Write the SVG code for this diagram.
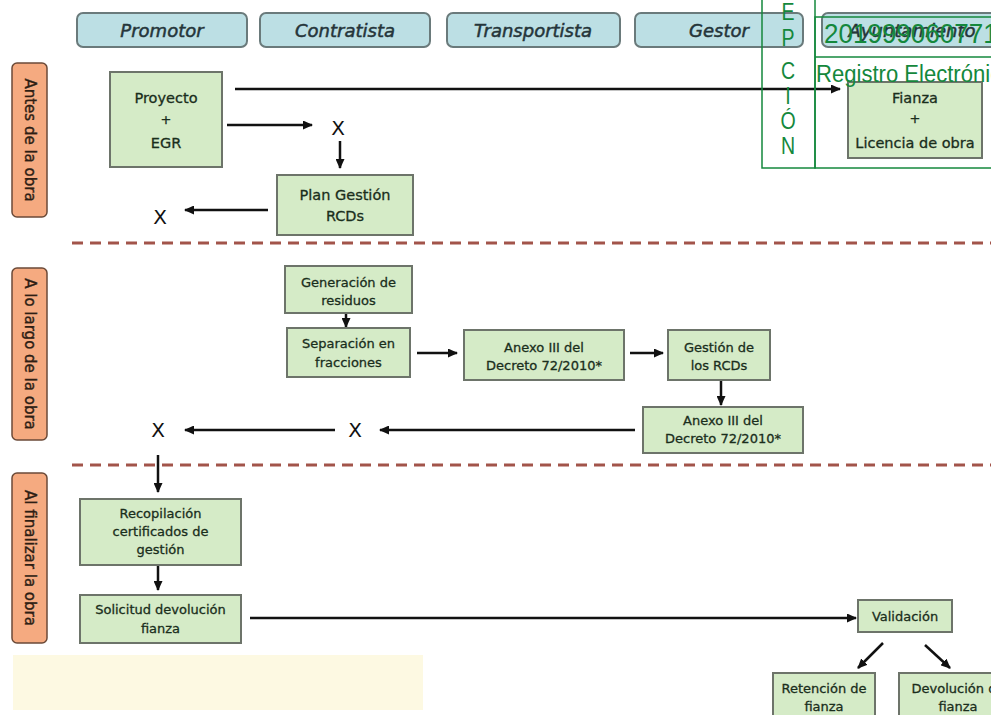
<svg xmlns="http://www.w3.org/2000/svg" width="991" height="715" viewBox="0 0 991 715">
<defs>
<marker id="ah" markerUnits="userSpaceOnUse" markerWidth="10" markerHeight="9" refX="9" refY="4.5" orient="auto">
<path d="M0,0 L10,4.5 L0,9 z" fill="#111"/>
</marker>
<style>
.pill{fill:#bcdfe4;stroke:#6a7a7b;stroke-width:2}
.pt{font-family:"DejaVu Sans",sans-serif;font-style:italic;font-size:18px;fill:#25353a;stroke:#25353a;stroke-width:0.5;text-anchor:middle}
.lab{fill:#f5aa80;stroke:#6b4a38;stroke-width:1.5}
.lt{font-family:"DejaVu Sans",sans-serif;font-size:15px;fill:#2e1e14;stroke:#2e1e14;stroke-width:0.4;text-anchor:middle}
.box{fill:#d5ebc7;stroke:#6d746a;stroke-width:2}
.bt{font-family:"DejaVu Sans",sans-serif;font-size:13px;fill:#1a2e1c;stroke:#1a2e1c;stroke-width:0.3;text-anchor:middle}
.bl{font-family:"DejaVu Sans",sans-serif;font-size:14.5px;fill:#1a2e1c;stroke:#1a2e1c;stroke-width:0.3;text-anchor:middle}
.x{font-family:"DejaVu Sans",sans-serif;font-size:20px;fill:#111;text-anchor:middle}
.cn{stroke:#111;stroke-width:2.5;fill:none;marker-end:url(#ah)}
.dash{stroke:#a2544a;stroke-width:3;stroke-dasharray:11 7;fill:none}
.st{fill:none;stroke:#14883c;stroke-width:1.5}
.stt{font-family:"Liberation Sans",sans-serif;fill:#14883c}
</style>
</defs>
<rect width="991" height="715" fill="#ffffff"/>
<rect x="13" y="655" width="410" height="55" fill="#fdf9e2"/>

<g id="headers">
<g id="h-promotor"><rect class="pill" x="77" y="13" width="170" height="34" rx="6"/><text class="pt" x="162" y="37">Promotor</text></g>
<g id="h-contratista"><rect class="pill" x="260" y="13" width="170" height="34" rx="6"/><text class="pt" x="345" y="37">Contratista</text></g>
<g id="h-transportista"><rect class="pill" x="447" y="13" width="173" height="34" rx="6"/><text class="pt" x="533" y="37">Transportista</text></g>
<g id="h-gestor"><rect class="pill" x="635" y="13" width="168" height="34" rx="6"/><text class="pt" x="719" y="37">Gestor</text></g>
<g id="h-ayuntamiento"><rect class="pill" x="822" y="13" width="185" height="34" rx="6"/><text class="pt" x="912" y="37">Ayuntamiento</text></g>
</g>

<g id="phases">
<g id="p-antes"><rect class="lab" x="12" y="63" width="35" height="154" rx="5"/><text class="lt" transform="translate(24.5,140) rotate(90)" x="0" y="0">Antes de la obra</text></g>
<g id="p-largo"><rect class="lab" x="12" y="268" width="35" height="172" rx="5"/><text class="lt" transform="translate(24.5,354) rotate(90)" x="0" y="0">A lo largo de la obra</text></g>
<g id="p-final"><rect class="lab" x="12" y="473" width="35" height="170" rx="5"/><text class="lt" transform="translate(24.5,558) rotate(90)" x="0" y="0">Al finalizar la obra</text></g>
</g>

<g id="separators">
<line class="dash" x1="72" y1="243" x2="991" y2="243"/>
<line class="dash" x1="72" y1="465" x2="991" y2="465"/>
</g>

<g id="connectors">
<path class="cn" d="M235,89 H840"/>
<path class="cn" d="M227,125 H312"/>
<path class="cn" d="M340,141 V168"/>
<path class="cn" d="M268,210 H185"/>
<path class="cn" d="M346,313 V327"/>
<path class="cn" d="M417,353 H457"/>
<path class="cn" d="M630,353 H663"/>
<path class="cn" d="M721,380 V405"/>
<path class="cn" d="M635,430 H380"/>
<path class="cn" d="M335,430 H185"/>
<path class="cn" d="M158,455 V492"/>
<path class="cn" d="M158,566 V590"/>
<path class="cn" d="M250,618 H856"/>
<path class="cn" d="M883,643 L858,668"/>
<path class="cn" d="M925,645 L950,668"/>
</g>

<g id="n-proyecto"><rect class="box" x="110" y="72" width="112" height="95"/><text class="bl" x="166" y="103">Proyecto</text><text class="bt" x="166" y="124" font-size="10">+</text><text class="bl" x="166" y="148">EGR</text></g>
<g id="x1"><text class="x" x="338" y="135">X</text></g>
<g id="n-plan"><rect class="box" x="277" y="175" width="136" height="60"/><text class="bl" x="345" y="200">Plan Gestión</text><text class="bl" x="345" y="221">RCDs</text></g>
<g id="x2"><text class="x" x="160" y="224">X</text></g>
<g id="n-fianza"><rect class="box" x="848" y="82" width="134" height="76"/><text class="bl" x="915" y="103">Fianza</text><text class="bt" x="915" y="123" font-size="10">+</text><text class="bl" x="915" y="148">Licencia de obra</text></g>

<g id="n-generacion"><rect class="box" x="285" y="266" width="127" height="47"/><text class="bt" x="348.5" y="287">Generación de</text><text class="bt" x="348.5" y="305">residuos</text></g>
<g id="n-separacion"><rect class="box" x="287" y="328" width="123" height="49"/><text class="bt" x="348.5" y="348">Separación en</text><text class="bt" x="348.5" y="367">fracciones</text></g>
<g id="n-anexo1"><rect class="box" x="464" y="330" width="160" height="50"/><text class="bt" x="544" y="352">Anexo III del</text><text class="bt" x="544" y="370">Decreto 72/2010*</text></g>
<g id="n-gestion"><rect class="box" x="668" y="330" width="102" height="50"/><text class="bt" x="719" y="352">Gestión de</text><text class="bt" x="719" y="370">los RCDs</text></g>
<g id="n-anexo2"><rect class="box" x="643" y="407" width="160" height="46"/><text class="bt" x="723" y="425">Anexo III del</text><text class="bt" x="723" y="443">Decreto 72/2010*</text></g>
<g id="x3"><text class="x" x="355" y="437">X</text></g>
<g id="x4"><text class="x" x="158" y="437">X</text></g>

<g id="n-recopilacion"><rect class="box" x="80" y="499" width="161" height="66"/><text class="bt" x="160.5" y="518">Recopilación</text><text class="bt" x="160.5" y="536">certificados de</text><text class="bt" x="160.5" y="554">gestión</text></g>
<g id="n-solicitud"><rect class="box" x="80" y="595" width="161" height="48"/><text class="bt" x="160.5" y="614">Solicitud devolución</text><text class="bt" x="160.5" y="633">fianza</text></g>
<g id="n-validacion"><rect class="box" x="858" y="600" width="94" height="32"/><text class="bt" x="905" y="621">Validación</text></g>
<g id="n-retencion"><rect class="box" x="773" y="673" width="102" height="50"/><text class="bt" x="824" y="693">Retención de</text><text class="bt" x="824" y="711">fianza</text></g>
<g id="n-devolucion"><rect class="box" x="899" y="673" width="118" height="50"/><text class="bt" x="958" y="693">Devolución de</text><text class="bt" x="958" y="711">fianza</text></g>

<g id="stamp">
<rect class="st" x="762" y="-5" width="53" height="173"/>
<rect class="st" x="815" y="17" width="190" height="151"/>
<line class="st" x1="815" y1="57" x2="1005" y2="57"/>
<g class="stt" font-size="23" text-anchor="middle">
<text x="788" y="20" transform="translate(788,0) scale(0.85,1) translate(-788,0)">E</text>
<text x="788" y="46" transform="translate(788,0) scale(0.85,1) translate(-788,0)">P</text>
<text x="788" y="79" transform="translate(788,0) scale(0.85,1) translate(-788,0)">C</text>
<text x="788" y="104" transform="translate(788,0) scale(0.85,1) translate(-788,0)">I</text>
<text x="788" y="129" transform="translate(788,0) scale(0.85,1) translate(-788,0)">Ó</text>
<text x="788" y="154" transform="translate(788,0) scale(0.85,1) translate(-788,0)">N</text>
</g>
<text class="stt" font-size="28" transform="translate(824,43) scale(0.93,1)">2019990607711</text>
<text class="stt" font-size="24" transform="translate(816,82) scale(0.92,1)">Registro Electrónico</text>
</g>
</svg>
